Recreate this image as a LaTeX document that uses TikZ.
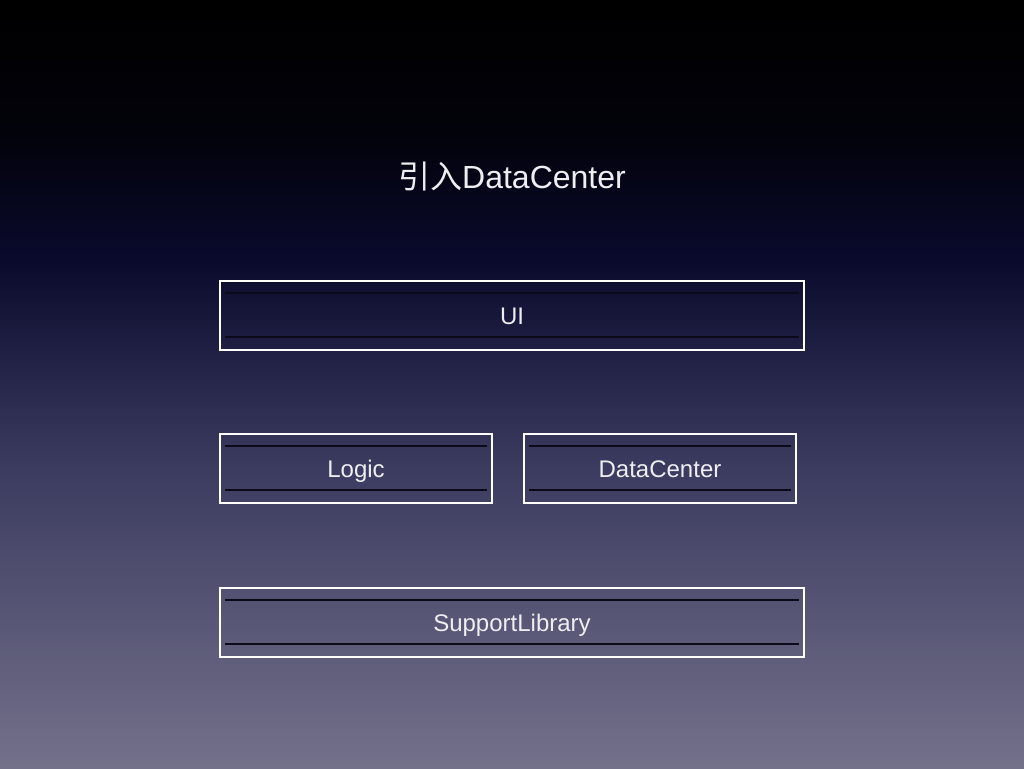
\documentclass[tikz,border=0pt]{standalone}
\usepackage{fontspec}
\setmainfont{Liberation Sans}
\newfontfamily\cjk{Noto Sans CJK SC}
\usetikzlibrary{calc,positioning}

\definecolor{bgtop}{RGB}{0,0,0}
\definecolor{bgdark}{RGB}{2,2,10}
\definecolor{bgnavy}{RGB}{10,10,45}
\definecolor{bgmid}{RGB}{58,58,95}
\definecolor{bgbot}{RGB}{115,113,138}
\definecolor{rulecol}{RGB}{10,10,24}
\definecolor{labelcol}{RGB}{238,238,242}

\pgfdeclareverticalshading{slidebg}{100bp}{color(0bp)=(bgbot); color(25bp)=(bgbot);
  color(45bp)=(bgmid); color(58bp)=(bgnavy); color(66.5bp)=(bgdark);
  color(75bp)=(bgtop); color(100bp)=(bgtop)}

\tikzset{
  layerbox/.style={draw=white, line width=1pt, minimum height=34.5pt, inner sep=0pt,
    text=labelcol, text height=9.6pt, text depth=0.4pt, font=\fontsize{12}{14}\selectfont},
  innerline/.style={draw=rulecol, line width=0.7pt}
}

\begin{document}
\begin{tikzpicture}[x=0.5pt,y=-0.5pt]

\shade[shading=slidebg] (0,0) rectangle (1024,768);
\useasboundingbox (0,0) rectangle (1024,768);

\node[text=labelcol, font=\fontsize{16}{19}\selectfont] (title) at (512,176) {{\cjk 引入}DataCenter};

\node[layerbox, minimum width=292pt] (ui) at (512,315.5) {UI};
\node[layerbox, minimum width=136pt] (logic) at (356,468.5) {Logic};
\node[layerbox, minimum width=136pt] (datacenter) at (660,468.5) {DataCenter};
\node[layerbox, minimum width=292pt] (support) at (512,622.5) {SupportLibrary};

\foreach \n in {ui,logic,datacenter,support}{
  \draw[innerline] ($(\n.north west)+(6,13)$) -- ($(\n.north east)+(-6,13)$);
  \draw[innerline] ($(\n.south west)+(6,-14)$) -- ($(\n.south east)+(-6,-14)$);
}

\end{tikzpicture}
\end{document}
